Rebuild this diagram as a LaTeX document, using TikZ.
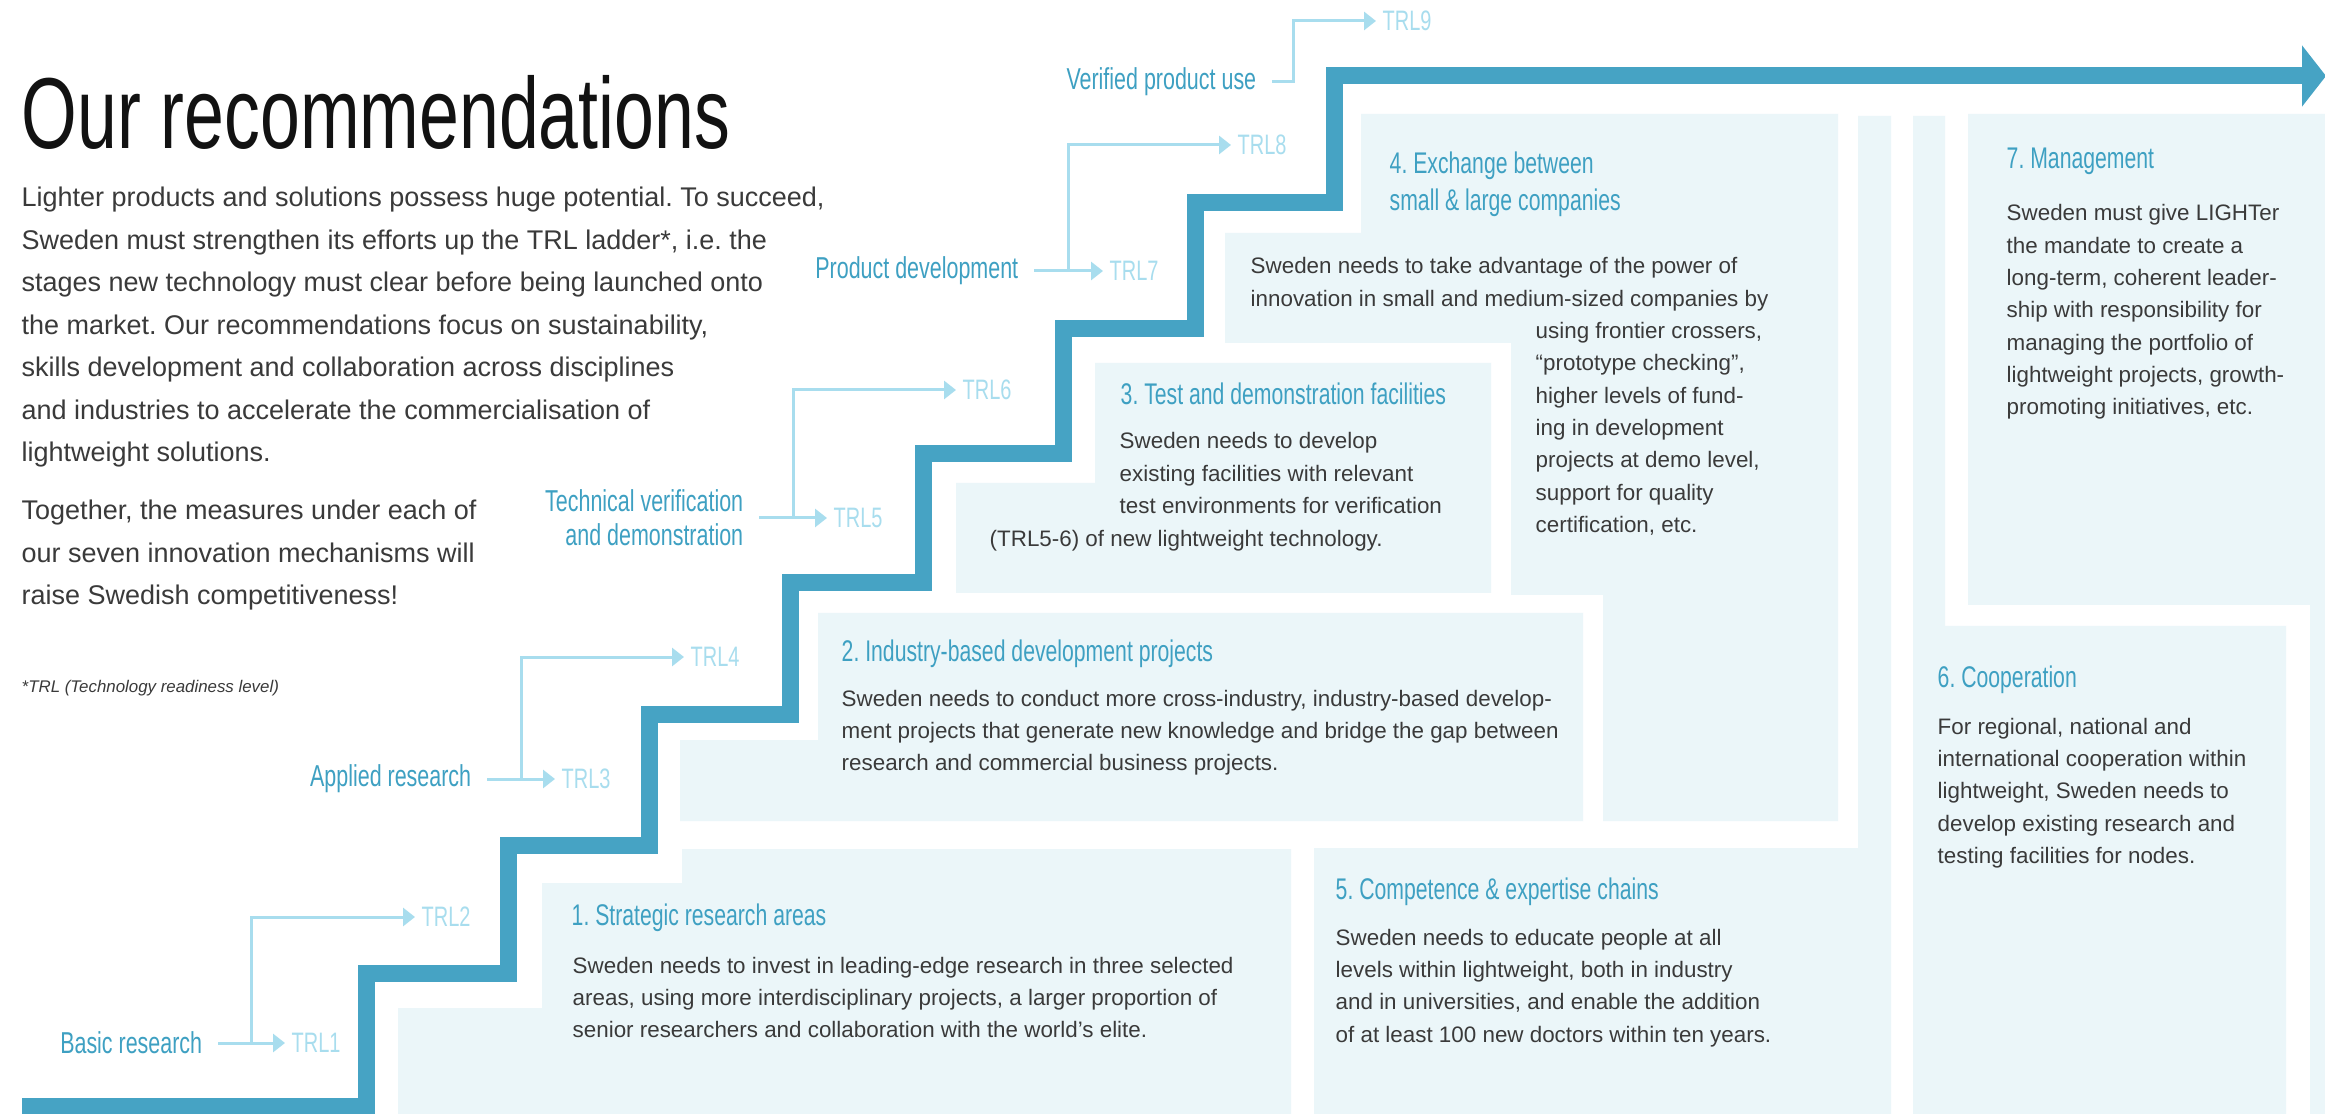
\documentclass[tikz,border=0pt]{standalone}
\usepackage{fontspec}
\setmainfont{Liberation Sans}
\newfontfamily\condfont[FakeStretch=0.71]{Liberation Sans}
\usetikzlibrary{arrows.meta, calc}
\definecolor{stair-color}{RGB}{70,163,196}
\definecolor{head-color}{RGB}{62,160,194}
\definecolor{trl-color}{RGB}{168,221,238}
\definecolor{box-color}{RGB}{235,246,249}
\definecolor{text-color}{RGB}{58,58,58}
\frenchspacing

\begin{document}
\begin{tikzpicture}[
    x=0.1mm, y=-0.1mm,
    % flat tinted areas behind the seven mechanisms
    box/.style={fill=box-color},
    stair/.style={draw=stair-color, line width=1.7mm, line join=miter,
                  -{Triangle[length=2.4mm, width=6mm]}},
    trlarr/.style={draw=trl-color, line width=0.3mm, -{Triangle[length=1.2mm, width=1.8mm]}},
    stage/.style={font=\condfont\fontsize{8.6}{9.7}\selectfont, text=head-color,
                  anchor=east, inner xsep=4.3pt, inner ysep=0pt, align=right},
    trl/.style={font=\condfont\fontsize{8}{9}\selectfont, text=trl-color,
                anchor=west, inner xsep=1.7pt, inner ysep=0pt},
    % keep the font's own word spaces inside text width nodes
    natspace/.style={execute at begin node={\spaceskip=0pt\xspaceskip=0pt}},
    ttl/.style={font=\condfont\fontsize{8.5}{10.5}\selectfont, text=head-color,
                anchor=base west, inner sep=0pt, align=left, natspace},
    txt/.style={font=\fontsize{6.37}{9.2}\selectfont, text=text-color,
                anchor=base west, inner sep=0pt, text width=#1, align=left, natspace},
    lead/.style={font=\fontsize{7.68}{12.09}\selectfont}
]

\useasboundingbox[fill=white] (0,0) rectangle (2325,1114);

% ===== TINTED BOXES =====
\fill[box] (398,1114) -- (398,1008) -- (542,1008) -- (542,883) -- (682,883) -- (682,849)
    -- (1291,849) -- (1291,1114) -- cycle;
\fill[box] (680,821) -- (680,740) -- (818,740) -- (818,613) -- (1583,613) -- (1583,821) -- cycle;
\fill[box] (956,593) -- (956,483) -- (1095,483) -- (1095,363) -- (1491,363) -- (1491,593) -- cycle;
\fill[box] (1225,343) -- (1225,233) -- (1361,233) -- (1361,114) -- (1838,114) -- (1838,821)
    -- (1603,821) -- (1603,595) -- (1511,595) -- (1511,343) -- cycle;
\fill[box] (1314,1114) -- (1314,848) -- (1858,848) -- (1858,116) -- (1891,116) -- (1891,1114) -- cycle;
\fill[box] (1913,1114) -- (1913,116) -- (1945,116) -- (1945,626) -- (2286,626) -- (2286,1114) -- cycle;
\fill[box] (1968,114) -- (2325,114) -- (2325,1114) -- (2310,1114) -- (2310,605) -- (1968,605) -- cycle;

% ===== STAIRCASE =====
\draw[stair] (22,1106) -- (366,1106) -- (366,973) -- (508,973) -- (508,845) -- (649,845)
    -- (649,714) -- (790,714) -- (790,583) -- (923,583) -- (923,454) -- (1063,454)
    -- (1063,329) -- (1195,329) -- (1195,203) -- (1334,203) -- (1334,76) -- (2326,76);

% ===== INTRO TEXT =====
\node[anchor=base west, inner sep=0pt, font=\condfont\fontsize{28.7}{32}\selectfont,
      text=black!93] (title) at (21,149) {Our recommendations};
\node[txt=90mm, lead] (intro) at (21,207) {Lighter products and solutions possess huge potential. To succeed,\\
    Sweden must strengthen its efforts up the TRL ladder*, i.e. the\\
    stages new technology must clear before being launched onto\\
    the market. Our recommendations focus on sustainability,\\
    skills development and collaboration across disciplines\\
    and industries to accelerate the commercialisation of\\
    lightweight solutions.};
\node[txt=90mm, lead] (together) at (21,520) {Together, the measures under each of\\
    our seven innovation mechanisms will\\
    raise Swedish competitiveness!};
\node[anchor=base west, inner sep=0pt, font=\itshape\fontsize{4.8}{6}\selectfont,
      text=text-color] (footnote) at (21,692) {*TRL (Technology readiness level)};

% ===== TRL LADDER =====
% basic research -> TRL1/TRL2
\node[stage] (basic) at (218,1043) {Basic research};
\node[trl] (trl1) at (285,1043) {TRL1};
\node[trl] (trl2) at (415,917) {TRL2};
\coordinate (basicfork) at ($(basic.east)!0.5!(trl1.west)$);
\draw[trlarr] (basic.east) -- (trl1.west);
\draw[trlarr] (basicfork) |- (trl2.west);

% applied research -> TRL3/TRL4
\node[stage] (applied) at (487,779) {Applied research};
\node[trl] (trl3) at (555,779) {TRL3};
\node[trl] (trl4) at (684,657) {TRL4};
\coordinate (appliedfork) at ($(applied.east)!0.5!(trl3.west)$);
\draw[trlarr] (applied.east) -- (trl3.west);
\draw[trlarr] (appliedfork) |- (trl4.west);

% technical verification -> TRL5/TRL6
\node[stage] (techver) at (759,518) {Technical verification\\and demonstration};
\node[trl] (trl5) at (827,518) {TRL5};
\node[trl] (trl6) at (956,390) {TRL6};
\coordinate (techfork) at ($(techver.east)!0.5!(trl5.west)$);
\draw[trlarr] (techver.east) -- (trl5.west);
\draw[trlarr] (techfork) |- (trl6.west);

% product development -> TRL7/TRL8
\node[stage] (proddev) at (1034,271) {Product development};
\node[trl] (trl7) at (1103,271) {TRL7};
\node[trl] (trl8) at (1231,145) {TRL8};
\coordinate (prodfork) at ($(proddev.east)!0.5!(trl7.west)$);
\draw[trlarr] (proddev.east) -- (trl7.west);
\draw[trlarr] (prodfork) |- (trl8.west);

% verified product use -> TRL9
\node[stage] (verified) at (1272,82) {Verified product use};
\node[trl] (trl9) at (1376,21) {TRL9};
\draw[trlarr] (verified.east) -- ++(21,0) |- (trl9.west);

% ===== MECHANISMS =====
\node[ttl] (b1title) at (571,925) {1. Strategic research areas};
\node[txt=80mm] (b1text) at (572,973) {Sweden needs to invest in leading-edge research in three selected\\
    areas, using more interdisciplinary projects, a larger proportion of\\
    senior researchers and collaboration with the world’s elite.};

\node[ttl] (b2title) at (841,661) {2. Industry-based development projects};
\node[txt=80mm] (b2text) at (841,706) {Sweden needs to conduct more cross-industry, industry-based develop-\\
    ment projects that generate new knowledge and bridge the gap between\\
    research and commercial business projects.};

\node[ttl] (b3title) at (1120,405) {3. Test and demonstration facilities};
\node[txt=60mm] (b3text) at (989,449) {\hspace*{13mm}Sweden needs to develop\\
    \hspace*{13mm}existing facilities with relevant\\
    \hspace*{13mm}test environments for verification\\
    (TRL5-6) of new lightweight technology.};

\node[ttl, text width=50mm] (b4title) at (1389,174) {4. Exchange between\\small \& large companies};
\node[txt=60mm] (b4text) at (1250,274) {Sweden needs to take advantage of the power of\\
    innovation in small and medium-sized companies by\\
    \hspace*{28.5mm}using frontier crossers,\\
    \hspace*{28.5mm}“prototype checking”,\\
    \hspace*{28.5mm}higher levels of fund-\\
    \hspace*{28.5mm}ing in development\\
    \hspace*{28.5mm}projects at demo level,\\
    \hspace*{28.5mm}support for quality\\
    \hspace*{28.5mm}certification, etc.};

\node[ttl] (b5title) at (1335,899) {5. Competence \& expertise chains};
\node[txt=55mm] (b5text) at (1335,945) {Sweden needs to educate people at all\\
    levels within lightweight, both in industry\\
    and in universities, and enable the addition\\
    of at least 100 new doctors within ten years.};

\node[ttl] (b6title) at (1937,688) {6. Cooperation};
\node[txt=40mm] (b6text) at (1937,734) {For regional, national and\\
    international cooperation within\\
    lightweight, Sweden needs to\\
    develop existing research and\\
    testing facilities for nodes.};

\node[ttl] (b7title) at (2006,169) {7. Management};
\node[txt=40mm] (b7text) at (2006,221) {Sweden must give LIGHTer\\
    the mandate to create a\\
    long-term, coherent leader-\\
    ship with responsibility for\\
    managing the portfolio of\\
    lightweight projects, growth-\\
    promoting initiatives, etc.};

\end{tikzpicture}
\end{document}
